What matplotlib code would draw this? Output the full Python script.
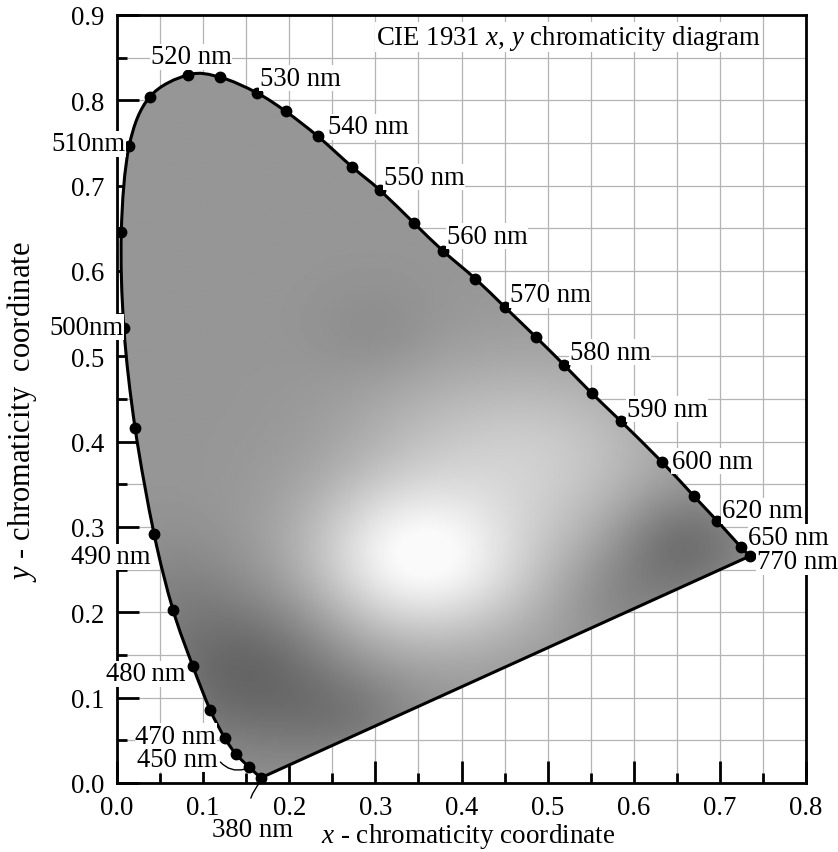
import numpy as np
import matplotlib
matplotlib.use("Agg")
import matplotlib.pyplot as plt
from matplotlib.path import Path
from matplotlib.patches import PathPatch
from matplotlib.ticker import MultipleLocator

plt.rcParams["font.family"] = ["Liberation Serif", "DejaVu Serif"]
plt.rcParams["mathtext.fontset"] = "custom"
plt.rcParams["mathtext.rm"] = "Liberation Serif"
plt.rcParams["mathtext.it"] = "Liberation Serif:italic"

# Spectral locus sample points (nm) and their chromaticity coordinates
wavelengths = [380, 450, 460, 470, 475, 480, 485, 490, 495, 500, 505, 510, 515,
               520, 525, 530, 535, 540, 545, 550, 555, 560, 565, 570, 575, 580,
               585, 590, 600, 610, 620, 650, 770]
locus_x = [0.167, 0.153, 0.138, 0.125, 0.108, 0.088, 0.065, 0.043, 0.021, 0.008,
           0.005, 0.014, 0.038, 0.083, 0.120, 0.162, 0.196, 0.233, 0.273, 0.305,
           0.345, 0.378, 0.416, 0.450, 0.486, 0.519, 0.551, 0.585, 0.633, 0.670,
           0.697, 0.724, 0.735]
locus_y = [0.006, 0.019, 0.034, 0.053, 0.086, 0.137, 0.203, 0.292, 0.416, 0.533,
           0.646, 0.746, 0.804, 0.830, 0.827, 0.809, 0.787, 0.758, 0.722, 0.695,
           0.656, 0.624, 0.591, 0.558, 0.523, 0.490, 0.457, 0.424, 0.376, 0.336,
           0.307, 0.277, 0.266]

# Wavelength labels: text, anchor position, horizontal alignment
label_text = ["520 nm", "530 nm", "540 nm", "550 nm", "560 nm", "570 nm", "580 nm",
              "590 nm", "600 nm", "620 nm", "650 nm", "770 nm",
              "510nm", "500nm", "490\u2009nm", "480\u2009nm", "470 nm", "450 nm"]
label_x = [0.086, 0.166, 0.245, 0.310, 0.383, 0.456, 0.526, 0.592, 0.644, 0.702,
           0.733, 0.743, 0.010, 0.008, 0.039, 0.080, 0.115, 0.117]
label_y = [0.851, 0.826, 0.769, 0.710, 0.641, 0.572, 0.505, 0.438, 0.377, 0.319,
           0.288, 0.259, 0.749, 0.534, 0.265, 0.128, 0.055, 0.028]
label_ha = ["center"] + ["left"] * 11 + ["right"] * 6


def smooth_path(xs, ys):
    """Catmull-Rom curve through the points, closed by a straight line."""
    p = np.column_stack([xs, ys])
    n = len(p)
    verts = [p[0]]
    codes = [Path.MOVETO]
    for i in range(n - 1):
        p0 = p[max(i - 1, 0)]
        p1 = p[i]
        p2 = p[i + 1]
        p3 = p[min(i + 2, n - 1)]
        c1 = p1 + (p2 - p0) / 6.0
        c2 = p2 - (p3 - p1) / 6.0
        verts += [c1, c2, p2]
        codes += [Path.CURVE4] * 3
    verts.append(p[0])
    codes.append(Path.LINETO)
    verts.append(p[0])
    codes.append(Path.CLOSEPOLY)
    return Path(np.array(verts), codes)


# Grey-level shading of the gamut: base tone with light and dark patches
shade_base = 150.0
shade_spots = [  # (cx, cy, sx, sy, amplitude)
    (0.335, 0.265, 0.085, 0.07, 90.0),
    (0.43, 0.24, 0.07, 0.06, 22.0),
    (0.50, 0.38, 0.10, 0.08, 48.0),
    (0.36, 0.42, 0.08, 0.06, 14.0),
    (0.15, 0.13, 0.08, 0.065, -48.0),
    (0.07, 0.23, 0.05, 0.05, -12.0),
    (0.27, 0.08, 0.06, 0.04, -22.0),
    (0.655, 0.28, 0.055, 0.045, -42.0),
    (0.58, 0.22, 0.05, 0.04, -15.0),
    (0.30, 0.53, 0.05, 0.04, -10.0),
]

fig = plt.figure(figsize=(8.38, 8.53), dpi=100)
ax = fig.add_axes([117 / 838, 1 - 784 / 853, 689 / 838, 768 / 853])
ax.set_xlim(0, 0.8)
ax.set_ylim(0, 0.9)

# Grid every 0.05
ax.xaxis.set_major_locator(MultipleLocator(0.1))
ax.xaxis.set_minor_locator(MultipleLocator(0.05))
ax.yaxis.set_major_locator(MultipleLocator(0.1))
ax.yaxis.set_minor_locator(MultipleLocator(0.05))
ax.grid(True, which="both", color="#b4b4b4", lw=0.9, zorder=0)
ax.set_axisbelow(True)

gx = np.linspace(0, 0.8, 400)
gy = np.linspace(0, 0.9, 450)
GX, GY = np.meshgrid(gx, gy)
field = np.full_like(GX, shade_base)
for cx, cy, sx, sy, amp in shade_spots:
    field += amp * np.exp(-(((GX - cx) / sx) ** 2 + ((GY - cy) / sy) ** 2) / 2)
field = np.clip(field, 0, 250)

locus = smooth_path(locus_x, locus_y)
img = ax.imshow(field, extent=[0, 0.8, 0, 0.9], origin="lower", cmap="gray",
                vmin=0, vmax=255, aspect="auto", interpolation="bilinear", zorder=1)
patch = PathPatch(locus, facecolor="none", edgecolor="none")
ax.add_patch(patch)
img.set_clip_path(patch)

ax.add_patch(PathPatch(locus, facecolor="none", edgecolor="black", lw=2.2, zorder=3))
ax.plot(locus_x, locus_y, "o", color="black", ms=7.5, zorder=4)

fs = 19.3
box = dict(facecolor="white", edgecolor="none", pad=0.3)
for t, x, y, ha in zip(label_text, label_x, label_y, label_ha):
    ax.text(x, y, t, ha=ha, va="center", fontsize=fs, bbox=box, zorder=6,
            clip_on=False)

# Leader lines for the crowded short-wavelength end
ax.annotate("", xy=(locus_x[1] - 0.002, locus_y[1] - 0.002), xytext=(0.118, 0.027),
            arrowprops=dict(arrowstyle="-", lw=1.0, color="black",
                            connectionstyle="arc3,rad=0.35"), zorder=6)
ax.annotate("380 nm", xy=(locus_x[0], locus_y[0] - 0.004), xytext=(0.157, -0.055),
            ha="center", va="center", fontsize=fs, annotation_clip=False,
            arrowprops=dict(arrowstyle="-", lw=1.0, color="black",
                            connectionstyle="arc3,rad=-0.3",
                            shrinkA=12, shrinkB=0), zorder=6)

ax.text(0.747, 0.874, r"CIE 1931 $\it{x}$, $\it{y}$ chromaticity diagram",
        ha="right", va="center", fontsize=fs, bbox=box, zorder=6)

for side in ["left", "right", "top", "bottom"]:
    ax.spines[side].set_linewidth(2.0)
    ax.spines[side].set_zorder(5)

ax.tick_params(which="major", direction="in", length=16, width=2.0, labelsize=fs,
               pad=9, top=False, right=False)
ax.tick_params(which="minor", direction="in", length=7, width=2.0, top=False,
               right=False)
ax.set_xticks(np.arange(0, 0.81, 0.1))
ax.set_xticklabels([f"{v:.1f}" for v in np.arange(0, 0.81, 0.1)])
ax.set_yticks(np.arange(0, 0.91, 0.1))
ax.set_yticklabels([f"{v:.1f}" for v in np.arange(0, 0.91, 0.1)])

fig.text(468 / 838, 1 - 837 / 853, r"$\it{x}$ - chromaticity coordinate",
         ha="center", va="center", fontsize=19.5)
fig.text(22 / 838, 1 - 412 / 853, r"$\it{y}$ - chromaticity  coordinate",
         ha="center", va="center", fontsize=22, rotation=90)

fig.savefig("out.png", dpi=100, facecolor="white")
